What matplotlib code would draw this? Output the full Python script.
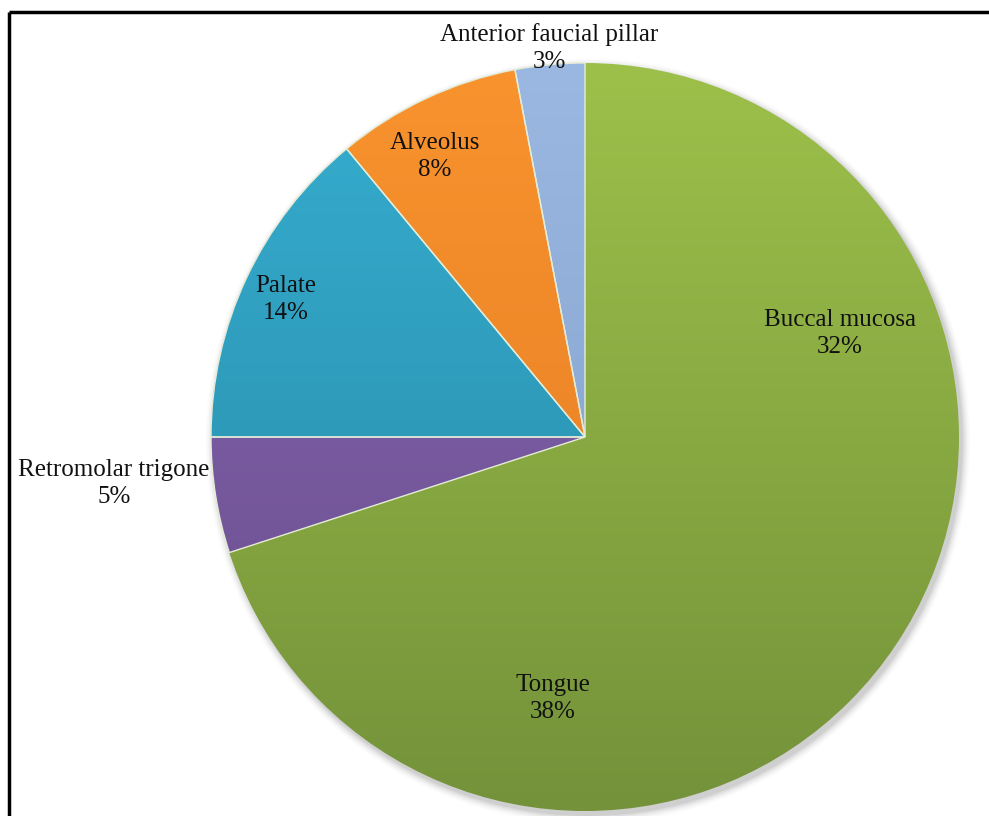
import numpy as np
import matplotlib
matplotlib.use("Agg")
import matplotlib.pyplot as plt
from matplotlib.colors import LinearSegmentedColormap

categories = ["Buccal mucosa", "Tongue", "Retromolar trigone", "Palate", "Alveolus", "Anterior faucial pillar"]
values = [32, 38, 5, 14, 8, 3]
pct_labels = ["32%", "38%", "5%", "14%", "8%", "3%"]

top_colors = ["#9DC04A", "#9DC04A", "#8A69B5", "#36AED0", "#F9932E", "#9BB8E2"]
bot_colors = ["#74923A", "#74923A", "#664A8A", "#2786A3", "#E07A22", "#7F9CC8"]
edge_widths = [0, 0, 1.0, 1.0, 1.0, 1.0]

W, H = 989, 816
fig = plt.figure(figsize=(W / 100, H / 100), dpi=100)
ax = fig.add_axes([0, 0, 1, 1])

cx, cy, R = 585, H - 437, 374

# soft shadow
for i, a in enumerate(np.linspace(0.05, 0.01, 6)):
    sh = plt.Circle((cx + 3, cy - 4), R + 1 + i * 1.5, color="black", alpha=a, lw=0, zorder=0)
    ax.add_patch(sh)

wedges, _ = ax.pie(values, startangle=90, counterclock=False, center=(cx, cy), radius=R,
                   colors=top_colors, wedgeprops=dict(edgecolor="#e4ecd8", linewidth=0.8),
                   frame=True)
ax.set_xlim(0, W)
ax.set_ylim(0, H)
ax.set_aspect("equal")
ax.axis("off")

grad = np.linspace(0, 1, 256).reshape(-1, 1)
ext = [cx - R, cx + R, cy - R, cy + R]

# base green gradient over the whole disc (Buccal mucosa and Tongue share it)
base = plt.Circle((cx, cy), R, transform=ax.transData, facecolor="none", lw=0)
ax.add_patch(base)
gim = ax.imshow(grad, extent=ext, origin="lower", aspect="auto", zorder=1.2,
                cmap=LinearSegmentedColormap.from_list("green", [bot_colors[0], top_colors[0]]))
gim.set_clip_path(base)

for k, (w, tc, bc, lw) in enumerate(zip(wedges, top_colors, bot_colors, edge_widths)):
    w.set_facecolor("none")
    w.set_linewidth(lw)
    w.set_zorder(2)
    if k < 2:
        continue
    cmap = LinearSegmentedColormap.from_list("g", [bc, tc])
    im = ax.imshow(grad, extent=ext, origin="lower", cmap=cmap, aspect="auto", zorder=1.5)
    im.set_clip_path(w)

# labels (pixel positions of label centres)
label_pos = [(840, 320), (553, 685), (114, 470), (286, 286), (435, 143), (549, 35)]
for name, pct, (x, y) in zip(categories, pct_labels, label_pos):
    ax.text(x, H - y, name, ha="center", va="center", fontsize=18,
            family="Liberation Serif", color="#111111", zorder=5)
    ax.text(x, H - y - 27, pct, ha="center", va="center", fontsize=18,
            family="Liberation Serif", color="#111111", zorder=5)

# frame lines (top and left)
ax.plot([9, W], [H - 12, H - 12], color="black", lw=2.5, zorder=6, solid_capstyle="butt")
ax.plot([9, 9], [0, H - 12], color="black", lw=2.5, zorder=6, solid_capstyle="butt")

fig.savefig("out.png", dpi=100)
